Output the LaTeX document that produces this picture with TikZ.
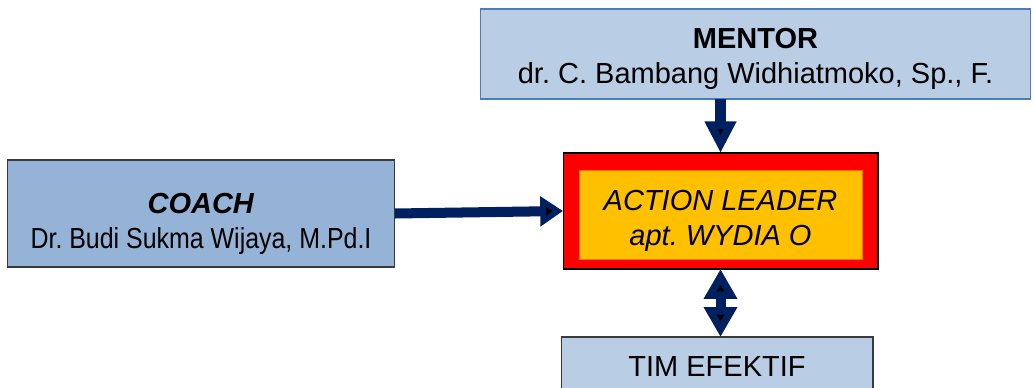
\documentclass[tikz,border=0pt]{standalone}
\usepackage{fontspec}
\setmainfont{Liberation Sans}
\usepackage{graphicx}
\usepackage{xcolor}
\usepackage{tikz}
\usetikzlibrary{arrows.meta}

\definecolor{mentorblue}{HTML}{B9CDE5}
\definecolor{coachblue}{HTML}{95B3D7}
\definecolor{mentorline}{HTML}{4A7EBB}
\definecolor{boxline}{HTML}{3A3A3A}
\definecolor{navy}{HTML}{002060}
\definecolor{leaderorange}{HTML}{FFC000}

% pushes the first line of a node down
\newcommand{\topgap}[1]{\rule{0pt}{#1}}

\tikzset{
	role/.style={draw=boxline, line width=0.6pt, inner sep=0pt, outer sep=0pt,
		align=center, font=\fontsize{16.5}{19.8}\selectfont\frenchspacing},
	block/.style={draw=navy, line width=6.6pt},
	downarrow/.style={-{Triangle[length=18pt,width=17pt]}},
	sidearrow/.style={line width=5.7pt, -{Triangle[length=13pt,width=16.5pt]}},
	twoway/.style={line width=5.7pt, {Triangle[length=17pt,width=18pt]}-{Triangle[length=17pt,width=18pt]}},
}

\begin{document}
\begin{tikzpicture}[x=0.02cm,y=-0.02cm]
	\clip (0,0) rectangle (1033,388);
	% nodes
	\node[role, draw=mentorline, fill=mentorblue, minimum width=11.02cm, minimum height=1.8cm]
		(M) at (755.5,54) {\topgap{17.5pt}\textbf{MENTOR}\\dr. C. Bambang Widhiatmoko, Sp., F.};
	\node[role, fill=coachblue, minimum width=7.76cm, minimum height=2.14cm]
		(C) at (201,213.5) {\topgap{23pt}\textbf{\textit{COACH}}\\\scalebox{0.86}[1]{Dr. Budi Sukma Wijaya, M.Pd.I}};
	\node[role, draw=black, fill=red, minimum width=6.3cm, minimum height=2.32cm]
		(L) at (720.5,211) {};
	\node[role, draw=orange!90!red, line width=0.4pt, fill=leaderorange, minimum width=5.66cm, minimum height=1.78cm]
		(L') at (720.5,214.5) {\topgap{19pt}\textit{ACTION LEADER}\\\textit{apt. WYDIA O}};
	\node[role, fill=mentorblue, minimum width=6.24cm, minimum height=1.2cm]
		(T) at (717,367) {TIM EFEKTIF};
	%
	\path[block]
	% incoming arrows
	(L.north |- M.south) edge[downarrow] (L.north)
	(C.east) edge[sidearrow] (L.west)
	% team arrow
	(L.south) edge[twoway] (L.south |- T.north);
\end{tikzpicture}
\end{document}
